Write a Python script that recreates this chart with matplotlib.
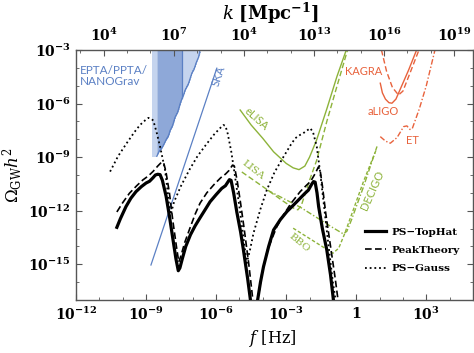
import numpy as np
import matplotlib
matplotlib.use("Agg")
import matplotlib.pyplot as plt
from matplotlib.ticker import FixedLocator, FixedFormatter, NullFormatter

plt.rcParams['font.family'] = ['DejaVu Serif']
plt.rcParams['mathtext.fontset'] = 'custom'
plt.rcParams['mathtext.rm'] = 'DejaVu Serif'
plt.rcParams['mathtext.it'] = 'DejaVu Serif:italic'
plt.rcParams['mathtext.bf'] = 'DejaVu Serif:bold'

# ---------------- data (log10 f [Hz], log10 Omega_GW h^2) ----------------
tophat_logf = [-10.25, -10.1, -9.86, -9.65, -9.43, -9.2, -9.0, -8.85, -8.7, -8.6, -8.5, -8.4,
               -8.3, -8.14, -8.0, -7.86, -7.72, -7.62, -7.55, -7.45, -7.3, -7.1, -6.9, -6.69,
               -6.45, -6.26, -6.0, -5.76, -5.6, -5.5, -5.43, -5.36, -5.25, -5.11, -4.95, -4.83,
               -4.65, -4.5,
               np.nan,
               -4.26, -4.1, -3.97, -3.75, -3.54, -3.25, -2.97, -2.7, -2.4, -2.19, -2.05, -1.9,
               -1.83, -1.76, -1.68, -1.61, -1.45, -1.26, -1.1, -0.95]
tophat_logO = [-12.93, -12.45, -11.77, -11.3, -10.93, -10.65, -10.45, -10.35, -10.15, -10.0, -9.96, -9.98,
               -10.3, -11.2, -12.3, -13.5, -14.7, -15.36, -15.2, -14.7, -14.0, -13.35, -12.85, -12.4,
               -11.9, -11.5, -11.1, -10.75, -10.6, -10.4, -10.26, -10.3, -11.0, -12.1, -13.2, -14.2,
               -15.8, -17.3,
               np.nan,
               -17.3, -16.0, -15.13, -14.0, -13.08, -12.5, -12.05, -11.7, -11.3, -11.02, -10.85, -10.5,
               -10.37, -10.4, -11.0, -11.77, -13.0, -14.2, -15.6, -17.3]

peak_logf = [-10.25, -10.0, -9.71, -9.4, -9.14, -8.9, -8.7, -8.5, -8.35, -8.25, -8.15, -8.0,
             -7.85, -7.7, -7.6, -7.5, -7.35, -7.1, -6.9, -6.69, -6.4, -6.1, -5.8, -5.6, -5.45,
             -5.3, -5.22, -5.1, -4.95, -4.8, -4.6, -4.4,
             np.nan,
             -4.25, -4.05, -3.8, -3.4, -3.1, -2.8, -2.4, -2.15, -1.95, -1.75, -1.62, -1.55,
             -1.45, -1.3, -1.1, -0.9, -0.75]
peak_logO = [-12.07, -11.55, -11.02, -10.6, -10.28, -10.05, -9.8, -9.5, -9.3, -9.3, -9.8, -11.0,
             -12.6, -14.0, -14.87, -14.5, -13.8, -12.9, -12.2, -11.58, -11.0, -10.55, -10.15, -9.95, -9.75,
             -9.45, -9.5, -10.3, -11.6, -13.0, -15.0, -17.3,
             np.nan,
             -17.3, -15.6, -14.2, -12.89, -12.2, -11.6, -10.93, -10.6, -10.35, -9.9, -9.55, -9.7,
             -10.6, -12.2, -14.0, -15.8, -17.3]

gauss_logf = [-10.54, -10.2, -9.83, -9.5, -9.26, -9.05, -8.9, -8.78, -8.69, -8.55, -8.4, -8.19,
              -8.05, -7.97, -7.8, -7.5, -7.14, -6.8, -6.43, -6.1, -5.85, -5.69, -5.6, -5.5,
              -5.35, -5.2, -5.0, -4.85, -4.69, -4.55, -4.4, -4.1, -3.83, -3.5, -3.11, -2.8,
              -2.61, -2.4, -2.27, -2.1, -1.97, -1.85, -1.69, -1.55, -1.4, -1.2, -1.0, -0.85]
gauss_logO = [-9.81, -8.95, -8.22, -7.6, -7.2, -6.95, -6.8, -6.85, -6.95, -7.6, -8.41, -9.7,
              -11.2, -12.33, -11.5, -10.6, -9.7, -8.95, -8.3, -7.75, -7.4, -7.2, -7.25, -7.7,
              -8.7, -10.0, -11.8, -13.3, -14.94, -14.2, -13.26, -11.9, -10.84, -9.85, -8.97, -8.3,
              -7.94, -7.75, -7.66, -7.5, -7.38, -7.6, -8.41, -9.8, -11.5, -13.8, -16.0, -17.3]

# PTA constraints
pta_logf = [-8.54, -8.45, -8.35, -8.26, -8.15, -8.05, -7.97, -7.88, -7.76, -7.65, -7.54,
            -7.47, -7.4, -7.33, -7.2, -7.04, -6.95, -6.85, -6.75, -6.69]
pta_logO = [-8.95, -8.7, -8.55, -8.35, -8.05, -7.85, -7.5, -7.3, -6.77, -6.5, -6.0,
            -5.75, -5.55, -5.25, -4.95, -4.3, -4.1, -3.7, -3.4, -3.0]
pta_band_logf = [-8.76, -8.54]
pta_band_low = -9.0
pta_line_logf = -7.47
pta_line_low = -5.7

ska_logf = [-8.79, -5.97]
ska_logO = [-15.04, -4.02]

elisa_logf = [-4.97, -4.5, -4.0, -3.54, -3.0, -2.7, -2.45, -2.2, -2.0, -1.7, -1.26, -0.83, -0.4]
elisa_logO = [-6.36, -7.2, -7.95, -8.7, -9.35, -9.6, -9.7, -9.5, -9.0, -8.05, -6.3, -4.5, -2.9]

lisa_logf = [-4.9, -4.0, -3.2, -2.69, -2.5, -2.35, -2.2, -2.0, -1.7, -1.26, -0.83, -0.35]
lisa_logO = [-9.83, -10.65, -11.4, -11.85, -11.95, -11.7, -11.1, -10.3, -9.2, -7.0, -5.05, -2.9]

decigo_logf = [-3.8, -2.4, -1.0, -0.55, -0.4, -0.2, 0.3, 0.89]
decigo_logO = [-10.85, -11.8, -12.95, -13.3, -13.15, -12.5, -10.7, -8.4]

bbo_logf = [-2.7, -1.0, -0.75, -0.5, -0.25, 0.3, 0.85]
bbo_logO = [-12.98, -14.38, -14.1, -13.3, -12.4, -10.4, -8.6]

aligo_logf = [1.03, 1.12, 1.25, 1.4, 1.53, 1.7, 1.95, 2.25, 2.6]
aligo_logO = [-4.86, -5.4, -5.75, -5.95, -5.98, -5.75, -5.0, -4.1, -2.95]

kagra_logf = [1.08, 1.3, 1.55, 1.81, 2.0, 2.3, 2.7]
kagra_logO = [-3.0, -4.2, -5.1, -5.52, -5.3, -4.3, -2.95]

et_logf = [1.03, 1.25, 1.46, 1.75, 2.03, 2.17, 2.3, 2.4, 2.7, 3.0, 3.38]
et_logO = [-7.85, -8.1, -8.22, -7.9, -7.29, -7.25, -7.45, -7.4, -6.3, -5.0, -2.95]

# axes
x_major_exp = [-12, -9, -6, -3, 0, 3]
x_major_lab = [r"$\mathbf{10^{-12}}$", r"$\mathbf{10^{-9}}$", r"$\mathbf{10^{-6}}$",
               r"$\mathbf{10^{-3}}$", r"$\mathbf{1}$", r"$\mathbf{10^{3}}$"]
y_major_exp = [-3, -6, -9, -12, -15]
y_major_lab = [r"$\mathbf{10^{-3}}$", r"$\mathbf{10^{-6}}$", r"$\mathbf{10^{-9}}$",
               r"$\mathbf{10^{-12}}$", r"$\mathbf{10^{-15}}$"]
top_lab = [r"$\mathbf{10^{4}}$", r"$\mathbf{10^{7}}$", r"$\mathbf{10^{4}}$",
           r"$\mathbf{10^{13}}$", r"$\mathbf{10^{16}}$", r"$\mathbf{10^{19}}$"]
k_first_exp = 4
logf_per_logk_offset = -14.81   # f = c k / 2 pi

XMIN, XMAX = -12, 5.0
YMIN, YMAX = -17, -3

BLUE = '#5b80c4'
BLUE_DARK = '#8ea8d8'
BLUE_LIGHT = '#c5d4ee'
GREEN = '#8db33a'
RED = '#e8623c'
FRAME = '#555555'

def P(a):
    return 10.0 ** np.asarray(a, dtype=float)

fig = plt.figure(figsize=(4.74, 3.53), dpi=100)
ax = fig.add_axes([76/474, 53/353, 397/474, 250/353])
ax.set_xscale('log')
ax.set_yscale('log')
ax.set_xlim(10.0**XMIN, 10.0**XMAX)
ax.set_ylim(10.0**YMIN, 10.0**YMAX)

# PTA region
ax.fill_between(P(pta_band_logf), P([pta_band_low]*2), P([YMAX + 0.5]*2),
                color=BLUE_LIGHT, lw=0, zorder=1)
pf = np.array(pta_logf)
po = np.array(pta_logO)
m1 = pf <= pta_line_logf
m2 = pf >= pta_line_logf
ax.fill_between(P(pf[m1]), P(po[m1]), P(np.full(m1.sum(), YMAX + 0.5)),
                color=BLUE_DARK, lw=0, zorder=1)
ax.fill_between(P(pf[m2]), P(po[m2]), P(np.full(m2.sum(), YMAX + 0.5)),
                color=BLUE_LIGHT, lw=0, zorder=1)
ax.plot(P(pf), P(po), color=BLUE, lw=0.9, zorder=2)
ax.plot(P(pf + 0.05), P(po + 0.15), color=BLUE, lw=0.7, ls=(0, (1.5, 1)), zorder=2)
ax.plot(P([pta_line_logf]*2), P([pta_line_low, YMAX + 0.5]), color=BLUE, lw=0.9, zorder=2)

# SKA
ax.plot(P(ska_logf), P(ska_logO), color=BLUE, lw=0.9, zorder=2)

# green detectors
ax.plot(P(elisa_logf), P(elisa_logO), color=GREEN, lw=1.0, zorder=2)
ax.plot(P(lisa_logf), P(lisa_logO), color=GREEN, lw=1.0, ls=(0, (4, 2)), zorder=2)
ax.plot(P(decigo_logf), P(decigo_logO), color=GREEN, lw=1.0, ls=(0, (4, 1.5, 1, 1.5)), zorder=2)
ax.plot(P(bbo_logf), P(bbo_logO), color=GREEN, lw=1.0, ls=(0, (2.5, 1.5)), zorder=2)

# red detectors
ax.plot(P(aligo_logf), P(aligo_logO), color=RED, lw=1.0, zorder=2)
ax.plot(P(kagra_logf), P(kagra_logO), color=RED, lw=1.0, ls=(0, (4, 2)), zorder=2)
ax.plot(P(et_logf), P(et_logO), color=RED, lw=1.0, ls=(0, (4, 1.5, 1, 1.5)), zorder=2)

# model curves
l1, = ax.plot(P(tophat_logf), P(tophat_logO), color='black', lw=2.3, zorder=4,
              solid_joinstyle='round', label='PS\u2212TopHat')
l2, = ax.plot(P(peak_logf), P(peak_logO), color='black', lw=1.2, ls=(0, (4, 2)), zorder=4,
              label='PeakTheory')
l3, = ax.plot(P(gauss_logf), P(gauss_logO), color='black', lw=1.3, ls=(0, (1, 1.6)), zorder=4,
              label='PS\u2212Gauss')

leg = ax.legend(handles=[l1, l2, l3], loc='upper left', bbox_to_anchor=(0.715, 0.31),
                frameon=False, handlelength=2.0, handletextpad=0.5, labelspacing=0.85,
                borderpad=0, prop={'family': 'DejaVu Serif', 'weight': 'bold', 'size': 7.5})

# labels
sans = 'Lato'
ax.text(P(-11.83), P(-3.85), 'EPTA/PPTA/\nNANOGrav', color=BLUE, fontsize=8.5, family=sans,
        ha='left', va='top', linespacing=1.0, zorder=5)
ax.text(P(-5.87), P(-4.46), 'SKA', color=BLUE, fontsize=8, family=sans, rotation=71,
        ha='center', va='center', zorder=5)
ax.text(P(-4.29), P(-6.86), 'eLISA', color=GREEN, fontsize=8, family=sans, rotation=-42,
        ha='center', va='center', zorder=5)
ax.text(P(-4.4), P(-9.72), 'LISA', color=GREEN, fontsize=7.5, family='DejaVu Serif',
        rotation=-38, ha='center', va='center', zorder=5)
ax.text(P(-2.44), P(-13.82), 'BBO', color=GREEN, fontsize=7.5, family='DejaVu Serif',
        rotation=-40, ha='center', va='center', zorder=5)
ax.text(P(0.67), P(-10.84), 'DECIGO', color=GREEN, fontsize=8, family=sans, rotation=66,
        ha='center', va='center', zorder=5)
ax.text(P(0.31), P(-4.21), 'KAGRA', color=RED, fontsize=8, family=sans,
        ha='center', va='center', zorder=5)
ax.text(P(1.14), P(-6.45), 'aLIGO', color=RED, fontsize=8, family=sans,
        ha='center', va='center', zorder=5)
ax.text(P(2.39), P(-8.04), 'ET', color=RED, fontsize=8, family=sans,
        ha='center', va='center', zorder=5)

# ticks bottom / left
ax.xaxis.set_major_locator(FixedLocator(P(x_major_exp)))
ax.xaxis.set_major_formatter(FixedFormatter(x_major_lab))
ax.xaxis.set_minor_locator(FixedLocator(P(np.arange(XMIN, XMAX + 1))))
ax.xaxis.set_minor_formatter(NullFormatter())
ax.yaxis.set_major_locator(FixedLocator(P(y_major_exp)))
ax.yaxis.set_major_formatter(FixedFormatter(y_major_lab))
ax.yaxis.set_minor_locator(FixedLocator(P(np.arange(YMIN, YMAX + 1))))
ax.yaxis.set_minor_formatter(NullFormatter())
ax.tick_params(which='both', direction='in', colors=FRAME, labelcolor='black',
               labelsize=10, right=True)
ax.tick_params(which='major', length=4, width=0.8, pad=4)
ax.tick_params(which='minor', length=2.5, width=0.6)
for s in ax.spines.values():
    s.set_color(FRAME)
    s.set_linewidth(1.0)

# top axis in k
ax2 = ax.twiny()
ax2.set_xscale('log')
ax2.set_xlim(ax.get_xlim())
top_logf = [k_first_exp + 3 * i + logf_per_logk_offset for i in range(len(top_lab))]
ax2.xaxis.set_major_locator(FixedLocator(P(top_logf)))
ax2.xaxis.set_major_formatter(FixedFormatter(top_lab))
ax2.xaxis.set_minor_locator(FixedLocator(P(np.arange(top_logf[0] - 1, XMAX, 1.0))))
ax2.xaxis.set_minor_formatter(NullFormatter())
ax2.tick_params(which='both', direction='in', colors=FRAME, labelcolor='black', labelsize=10)
ax2.tick_params(which='major', length=4, width=0.8, pad=4)
ax2.tick_params(which='minor', length=2.5, width=0.6)
for s in ax2.spines.values():
    s.set_visible(False)

ax.text(0.496, -0.155, r"$f$ [Hz]", transform=ax.transAxes, fontsize=11.5,
        ha='center', va='center')
ax.set_ylabel(r"$\Omega_{\mathrm{GW}}h^2$", fontsize=12)
ax.yaxis.set_label_coords(-0.128, 0.5)
ax.text(0.49, 1.148, r"$\mathit{k}\ \mathbf{[Mpc^{-1}]}$", transform=ax.transAxes,
        fontsize=13, ha='center', va='center')

fig.savefig('out.png', dpi=100)
